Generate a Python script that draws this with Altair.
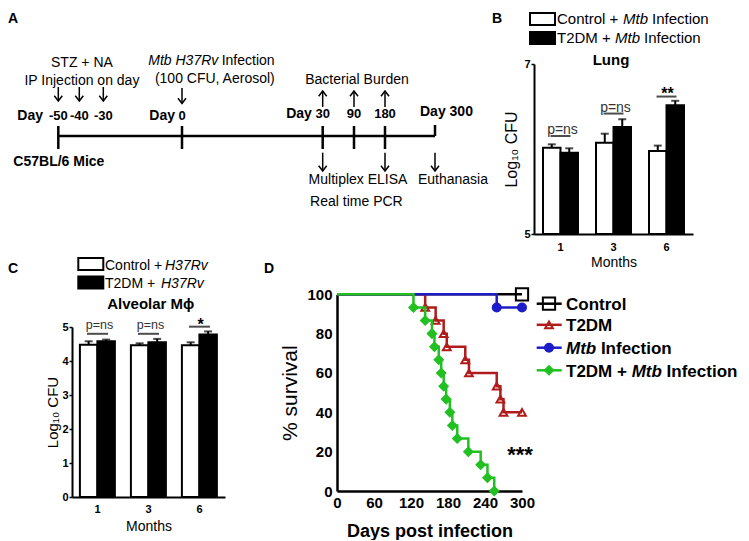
import altair as alt
import pandas as pd

FONT = "Liberation Sans"
BLACK = "#000000"
ONE = pd.DataFrame({"k": [0]})

# ---------------- Panel A : timeline (days) ----------------
tl_anchor_days = [-50, -40, -30, 0, 30, 90, 180, 300]
tick_days = [-50, 0, 30, 90, 180]
inj_days = [-50, -40, -30]
inf_days = [0]
burden_days = [30, 90, 180]
assay_days = [30, 180, 300]
num_days = [-50, -40, -30, 0, 30, 90, 180]
num_text = ["-50", "-40", "-30", "0", "30", "90", "180"]

# ---------------- Panel B : lung CFU ----------------
months = ["1", "3", "6"]
groups = ["Control", "T2DM"]
lung_ctrl = [6.015, 6.074, 5.976]
lung_ctrl_top = [6.055, 6.180, 6.040]
lung_t2dm = [5.956, 6.260, 6.516]
lung_t2dm_top = [6.008, 6.350, 6.567]
lung_sig_y = [6.153, 6.417, 6.617]
lung_sig = ["p=ns", "p=ns", "**"]

# ---------------- Panel C : alveolar macrophage CFU ----------------
am_ctrl = [4.48, 4.46, 4.46]
am_ctrl_top = [4.58, 4.52, 4.55]
am_t2dm = [4.58, 4.55, 4.78]
am_t2dm_top = [4.63, 4.65, 4.87]
am_sig_y = [4.80, 4.80, 5.01]
am_sig = ["p=ns", "p=ns", "*"]

# ---------------- Panel D : survival ----------------
series = ["Control", "T2DM", "Mtb Infection", "T2DM + Mtb Infection"]
ctrl_days = [0, 300]
ctrl_surv = [100, 100]
t2dm_days = [0, 143, 160, 173, 178, 208, 214, 259, 265, 270, 300]
t2dm_surv = [100, 93.3, 86.7, 80, 73.3, 66.7, 60, 53.3, 46.7, 40, 40]
mtb_days = [0, 259, 300]
mtb_surv = [100, 93.3, 93.3]
combo_days = [0, 124, 143, 154, 158, 165, 169, 173, 177, 183, 187, 195, 213, 233, 244, 255]
combo_surv = [100, 93.3, 86.7, 80, 73.3, 66.7, 60, 53.3, 46.7, 40, 33.3, 26.7, 20, 13.3, 6.7, 0]

RED = "#b01c1c"
BLUE = "#1c1cc8"
GREEN = "#22c022"

AX = dict(grid=False, domainColor=BLACK, tickColor=BLACK, labelColor=BLACK,
          titleColor=BLACK, labelFont=FONT, titleFont=FONT,
          labelOverlap=False, labelFlush=False)


def txt(text, x, y, size=14, weight="normal", style="normal", align="left",
        color=BLACK):
    return alt.Chart(ONE).mark_text(
        text=text, font=FONT, fontSize=size, fontWeight=weight, fontStyle=style,
        align=align, baseline="alphabetic", color=color
    ).encode(x=alt.value(x), y=alt.value(y))


def box(x1, x2, y1, y2, fill):
    return alt.Chart(ONE).mark_rect(fill=fill, stroke=BLACK, strokeWidth=2).encode(
        x=alt.value(x1), x2=alt.value(x2), y=alt.value(y1), y2=alt.value(y2))


# ======================= Panel A =======================
ax_x = alt.Scale(domain=tl_anchor_days,
                 range=[-13.7, 7.3, 31.3, 110, 250.7, 282, 313, 363],
                 zero=False, nice=False)
ax_y = alt.Scale(domain=[-131, 72], range=[203, 0], zero=False, nice=False)


def AX_(f):
    return alt.X(f, type="quantitative", scale=ax_x, axis=None)


def AY_(f):
    return alt.Y(f, type="quantitative", scale=ax_y, axis=None)


timeline = alt.Chart(pd.DataFrame({"d1": [tl_anchor_days[0]], "d2": [tl_anchor_days[-1]], "v": [0]})) \
    .mark_rule(color=BLACK, strokeWidth=2.5).encode(x=AX_("d1"), x2="d2", y=AY_("v"))
ticks_a = alt.Chart(pd.DataFrame({"day": tick_days + [300],
                                  "v1": [10] * len(tick_days) + [11],
                                  "v2": [-13] * len(tick_days) + [0]})) \
    .mark_rule(color=BLACK, strokeWidth=2.5).encode(x=AX_("day"), y=AY_("v1"), y2="v2")

shaft_df = pd.DataFrame({
    "day": inj_days + inf_days + burden_days + assay_days,
    "tail": [49] * 3 + [48] + [29] * 3 + [-16.7] * 3,
    "head": [35] * 3 + [32.5] + [45] * 3 + [-35] * 3,
})
shafts = alt.Chart(shaft_df).mark_rule(color=BLACK, strokeWidth=1.5).encode(
    x=AX_("day"), y=AY_("tail"), y2="head")
down_df = shaft_df[shaft_df["head"] < shaft_df["tail"]]
up_df = shaft_df[shaft_df["head"] > shaft_df["tail"]]
heads_down = alt.Chart(down_df).mark_point(
    shape="M-1,-1.3L0,0L1,-1.3", filled=False, color=BLACK, strokeWidth=1.5,
    size=64, opacity=1).encode(x=AX_("day"), y=AY_("head"))
heads_up = alt.Chart(up_df).mark_point(
    shape="M-1,1.3L0,0L1,1.3", filled=False, color=BLACK, strokeWidth=1.5,
    size=64, opacity=1).encode(x=AX_("day"), y=AY_("head"))


def a_text(days, vs, texts, size=14, weight="normal", style="normal", align="center"):
    df = pd.DataFrame({"day": days, "v": vs, "t": texts})
    return alt.Chart(df).mark_text(
        font=FONT, fontSize=size, fontWeight=weight, fontStyle=style, align=align,
        baseline="alphabetic", color=BLACK).encode(x=AX_("day"), y=AY_("v"), text="t:N")


a_center = a_text([-38.9, -38.9, 7.0, 98.7, 101.6, 97.0],
                  [69.5, 51.5, 53, 52.5, -48, -69.5],
                  ["STZ + NA", "IP Injection on day", "(100 CFU, Aerosol)",
                   "Bacterial Burden", "Multiplex ELISA", "Real time PCR"])
a_left = a_text([8.46, 259], [71, -48], ["Infection", "Euthanasia"], align="left")
a_ital = a_text([7.74], [71], ["Mtb H37Rv"], style="italic", align="right")
a_bold_left = a_text([-71.4, 264, -73.9], [-30, 20, 113],
                     ["C57BL/6 Mice", "Day 300", "A"], weight="bold", align="left")
a_day = a_text([-57.3, -2.66, 27.7], [16, 16, 18], ["Day", "Day", "Day"],
               weight="bold", align="right")
a_num = a_text(num_days, [16, 16, 16, 16, 18, 18, 18], num_text, size=13,
               weight="bold", align="center")

panelA = alt.layer(timeline, ticks_a, shafts, heads_down, heads_up, a_center,
                   a_left, a_ital, a_bold_left, a_day, a_num).properties(width=350, height=203)


# ======================= bar panels =======================
def bar_panel(ctrl, ctrl_top, t2dm, t2dm_top, sig_y, sig, base, ydom, yvals,
              pin, pout, yaxis, xaxis, sig_size, ns_size, ns_dy, star_size, star_dy):
    df = pd.DataFrame({"month": months * 2,
                       "group": [groups[0]] * 3 + [groups[1]] * 3,
                       "value": ctrl + t2dm, "top": ctrl_top + t2dm_top,
                       "base": [base] * 6})
    x = alt.X("month:N", sort=months,
              scale=alt.Scale(paddingInner=pin, paddingOuter=pout), axis=xaxis)
    xo = alt.XOffset("group:N", sort=groups,
                     scale=alt.Scale(paddingInner=0, paddingOuter=0))
    ys = alt.Scale(domain=ydom, zero=False, nice=False)
    c = alt.Chart(df)
    bars = c.mark_bar(stroke=BLACK, strokeWidth=2).encode(
        x=x, xOffset=xo, y=alt.Y("value:Q", scale=ys, axis=yaxis), y2="base:Q",
        fill=alt.Fill("group:N", scale=alt.Scale(domain=groups, range=["white", "black"]),
                      legend=None))
    err = c.mark_rule(color=BLACK, strokeWidth=2).encode(
        x=x, xOffset=xo, y=alt.Y("value:Q", scale=ys, axis=yaxis), y2="top:Q")
    cap = c.mark_tick(color=BLACK, thickness=2, size=8, orient="horizontal").encode(
        x=x, xOffset=xo, y=alt.Y("top:Q", scale=ys, axis=yaxis))
    sdf = pd.DataFrame({"month": months, "y": sig_y, "label": sig})
    s = alt.Chart(sdf)
    line = s.mark_tick(orient="horizontal", size=sig_size, thickness=2, color=BLACK).encode(
        x=x, y=alt.Y("y:Q", scale=ys, axis=yaxis))
    ns = s.transform_filter("datum.label == 'p=ns'").mark_text(
        font=FONT, fontSize=ns_size, color="#333333", dx=2, dy=ns_dy,
        baseline="alphabetic").encode(x=x, y=alt.Y("y:Q", scale=ys, axis=yaxis), text="label:N")
    star = s.transform_filter("datum.label != 'p=ns'").mark_text(
        font=FONT, fontSize=star_size, fontWeight="bold", color=BLACK, dx=1, dy=star_dy,
        baseline="alphabetic").encode(x=x, y=alt.Y("y:Q", scale=ys, axis=yaxis), text="label:N")
    return [err, cap, bars, line, ns, star]


# ---- Panel B ----
b_yaxis = alt.Axis(values=[5, 6, 7], format="d", title="Log₁₀ CFU", domainWidth=2,
                   tickWidth=1.5, tickSize=3, labelFontSize=11, labelFontWeight="bold",
                   labelPadding=1, titleFontSize=16, titleFontWeight="normal",
                   titlePadding=4, **AX)
b_xaxis = alt.Axis(title="Months", labelAngle=0, ticks=False, domainWidth=2,
                   labelFontSize=11, labelFontWeight="bold", labelPadding=7,
                   titleFontSize=14, titleFontWeight="normal", titlePadding=3, **AX)
b_layers = bar_panel(lung_ctrl, lung_ctrl_top, lung_t2dm, lung_t2dm_top, lung_sig_y,
                     lung_sig, 5, [5, 7], [5, 6, 7], 0.34, 0.17, b_yaxis, b_xaxis,
                     20, 14, -2, 16, 2)
b_deco = [
    box(-4, 21, -51, -39, "white"),
    box(-4, 21, -32, -20, "black"),
    txt("Control + ", 23, -40, 15),
    txt("Mtb", 89, -40, 15, style="italic"),
    txt("Infection", 118, -40, 15),
    txt("T2DM + ", 23, -21, 15),
    txt("Mtb", 81, -21, 15, style="italic"),
    txt("Infection", 110, -21, 15),
    txt("Lung", 77, 1, 15, weight="bold", align="center"),
    txt("B", -42, -41, 14, weight="bold"),
]
panelB = alt.layer(*b_layers, *b_deco).properties(width=159, height=170)

# ---- Panel C ----
c_yaxis = alt.Axis(values=[0, 1, 2, 3, 4, 5], format="d", title="Log₁₀ CFU",
                   domainWidth=2, tickWidth=1.5, tickSize=3, labelFontSize=11,
                   labelFontWeight="bold", labelPadding=1, titleFontSize=15,
                   titleFontWeight="normal", titlePadding=1, **AX)
c_xaxis = alt.Axis(title="Months", labelAngle=0, ticks=False, domainWidth=2,
                   labelFontSize=11, labelFontWeight="bold", labelPadding=6,
                   titleFontSize=14, titleFontWeight="normal", titlePadding=5, **AX)
c_layers = bar_panel(am_ctrl, am_ctrl_top, am_t2dm, am_t2dm_top, am_sig_y, am_sig,
                     0, [0, 5], [0, 1, 2, 3, 4, 5], 0.31, 0.155, c_yaxis, c_xaxis,
                     21, 12.5, -5, 16, 3)
c_deco = [
    box(6.3, 31.3, -69, -57, "white"),
    box(6.3, 31.3, -50.5, -38.5, "black"),
    txt("Control + ", 33, -57.3, 14),
    txt("H37Rv", 93, -57.3, 14, style="italic"),
    txt("T2DM + ", 33, -39, 14),
    txt("H37Rv", 89, -39, 14, style="italic"),
    txt("Alveolar Mϕ", 78.8, -18, 15, weight="bold", align="center"),
    txt("C", -64, -54, 14, weight="bold"),
]
panelC = alt.layer(*c_layers, *c_deco).properties(width=153, height=170)

# ======================= Panel D =======================
# D sits in the second grid column (page x 534, top 326); its plot area is
# drawn further left/up through the scale ranges.
DOX = -197.0
DOY = -32.7
km = pd.DataFrame({
    "series": [series[0]] * len(ctrl_days) + [series[1]] * len(t2dm_days)
    + [series[2]] * len(mtb_days) + [series[3]] * len(combo_days),
    "day": ctrl_days + t2dm_days + mtb_days + combo_days,
    "surv": ctrl_surv + t2dm_surv + mtb_surv + combo_surv,
})
d_xaxis = alt.Axis(values=[0, 60, 120, 180, 240, 300], format="d",
                   title="Days post infection", ticks=False, domainWidth=2.5,
                   labelFontSize=15, labelFontWeight="bold", labelPadding=4,
                   titleFontSize=18, titleFontWeight="bold", titlePadding=12, **AX)
d_yaxis = alt.Axis(values=[0, 20, 40, 60, 80, 100], format="d", title="% survival",
                   ticks=False, domainWidth=2.5, labelFontSize=15, offset=-DOX,
                   labelFontWeight="bold", labelPadding=5, titleFontSize=21,
                   titleFontWeight="normal", titlePadding=6, **AX)
dx = alt.X("day:Q", scale=alt.Scale(domain=[0, 300], range=[DOX, DOX + 185],
                                    nice=False, zero=False), axis=d_xaxis)
dy = alt.Y("surv:Q", scale=alt.Scale(domain=[0, 100], range=[164, DOY],
                                     nice=False, zero=False), axis=d_yaxis)

styles = [
    # series, color, shape, filled, size
    (series[0], BLACK, "square", False, 150),
    (series[1], RED, "triangle-up", False, 60),
    (series[2], BLUE, "circle", True, 72),
    (series[3], GREEN, "diamond", True, 80),
]


def sym(col, shp, filled, size):
    if filled:
        return dict(shape=shp, filled=True, fill=col, stroke=col, strokeWidth=1.5,
                    size=size, opacity=1)
    return dict(shape=shp, filled=False, stroke=col, strokeWidth=2, size=size, opacity=1)


d_layers = []
for s, col, shp, filled, size in styles:
    sub = alt.Chart(km).transform_filter(alt.datum.series == s)
    d_layers.append(sub.mark_line(interpolate="step-after", color=col, strokeWidth=2.5)
                    .encode(x=dx, y=dy))
    d_layers.append(sub.transform_filter(alt.datum.day > 0)
                    .mark_point(**sym(col, shp, filled, size))
                    .encode(x=dx, y=dy))

leg_line_y = [9.4, 30.5, 53.4, 76]
leg_text_y = [16, 37, 59.7, 82.5]
d_deco = []
for (s, col, shp, filled, size), ly in zip(styles, leg_line_y):
    d_deco.append(alt.Chart(ONE).mark_rule(color=col, strokeWidth=2.5).encode(
        x=alt.value(199.7 + DOX), x2=alt.value(224.7 + DOX), y=alt.value(ly + DOY)))
    d_deco.append(alt.Chart(ONE).mark_point(**sym(col, shp, filled, size)).encode(
        x=alt.value(212 + DOX), y=alt.value(ly + DOY)))
d_deco += [
    txt("Control", 229 + DOX, leg_text_y[0] + DOY, 17, weight="bold"),
    txt("T2DM", 229 + DOX, leg_text_y[1] + DOY, 17, weight="bold"),
    txt("Mtb", 229 + DOX, leg_text_y[2] + DOY, 17, weight="bold", style="italic"),
    txt("Infection", 263.9 + DOX, leg_text_y[2] + DOY, 17, weight="bold"),
    txt("T2DM + ", 229 + DOX, leg_text_y[3] + DOY, 17, weight="bold"),
    txt("Mtb", 294.7 + DOX, leg_text_y[3] + DOY, 17, weight="bold", style="italic"),
    txt("Infection", 329.6 + DOX, leg_text_y[3] + DOY, 17, weight="bold"),
    txt("***", 183 + DOX, 168 + DOY, 22, weight="bold", align="center"),
    txt("D", -73 + DOX, -21.3 + DOY, 14, weight="bold"),
]
panelD = alt.layer(*d_layers, *d_deco).properties(width=185, height=164)

chart = alt.concat(
    panelA, panelB, panelC, panelD, columns=2,
    spacing={"row": 60, "column": 112}, bounds="flush"
).properties(padding={"top": 3, "left": 0, "right": 0, "bottom": 0}) \
 .configure_view(stroke=None)

chart.save("out.html", embed_options={"renderer": "svg", "actions": False})
